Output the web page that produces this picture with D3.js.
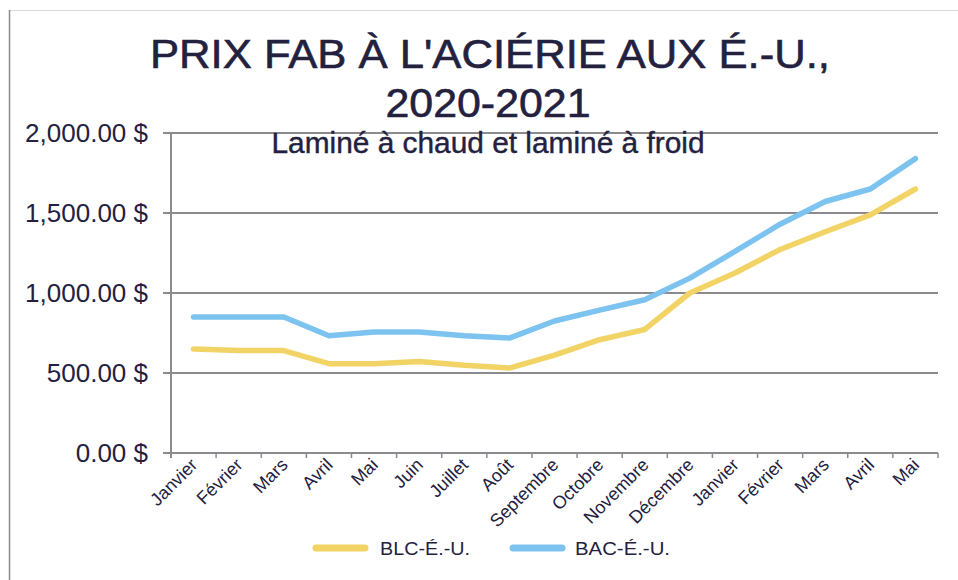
<!DOCTYPE html>
<html><head><meta charset="utf-8">
<script src="https://cdn.jsdelivr.net/npm/d3@7"></script>
<style>body{margin:0;background:#fff}svg{display:block}text{font-family:"Liberation Sans",Arial,sans-serif;fill:#24213f}</style>
</head><body><svg id="c" width="958" height="580"></svg>
<script>
const months = ["Janvier","Février","Mars","Avril","Mai","Juin","Juillet","Août","Septembre","Octobre","Novembre","Décembre","Janvier","Février","Mars","Avril","Mai"];
const blc = [650,640,640,558,558,572,548,531,612,708,772,1000,1125,1272,1383,1488,1650];
const bac = [850,850,850,733,756,756,733,718,825,893,958,1093,1260,1430,1572,1650,1840];
const yTicks = [0,500,1000,1500,2000];
const seriesNames = ["BLC-É.-U.","BAC-É.-U."];
const colors = ["#F2D466","#7DC3F0"];

const svg = d3.select("#c");
svg.append("rect").attr("x",9.5).attr("y",10.5).attr("width",960).attr("height",580).attr("fill","none").attr("stroke","#d9d9d9");
svg.append("line").attr("x1",9.5).attr("x2",9.5).attr("y1",10).attr("y2",580).attr("stroke","#8a8a8a").attr("stroke-width",1.5);

const L=171,R=938,T=133,B=453;
const x = d3.scaleBand().domain(d3.range(months.length)).range([L,R]).padding(0);
const y = d3.scaleLinear().domain([0,2000]).range([B,T]);

// gridlines
svg.append("g").selectAll("line").data(yTicks).join("line")
  .attr("x1",163).attr("x2",R).attr("y1",d=>y(d)).attr("y2",d=>y(d))
  .attr("stroke","#8c8a8f").attr("stroke-width",2);
// y axis line
svg.append("line").attr("x1",L).attr("x2",L).attr("y1",T).attr("y2",B+5).attr("stroke","#8c8a8f").attr("stroke-width",2);
// x ticks at boundaries
svg.append("g").selectAll("line").data(d3.range(months.length+1)).join("line")
  .attr("x1",i=>L+i*x.step()).attr("x2",i=>L+i*x.step()).attr("y1",B).attr("y2",B+5)
  .attr("stroke","#8c8a8f").attr("stroke-width",1.5);
// y labels
const fmt = d3.format(",.2f");
svg.append("g").selectAll("text").data(yTicks).join("text")
  .attr("x",148).attr("y",d=>y(d)).attr("dy","0.36em").attr("text-anchor","end")
  .style("font-size","26px").text(d=>fmt(d)+" $");
// x labels
svg.append("g").selectAll("text").data(months).join("text")
  .attr("transform",(d,i)=>`translate(${x(i)+x.bandwidth()/2+5},${B+13}) rotate(-45)`)
  .attr("text-anchor","end").style("font-size","18px").text(d=>d);

// lines
const line = d3.line().x((d,i)=>x(i)+x.bandwidth()/2).y(d=>y(d));
[blc,bac].forEach((s,k)=>{
  svg.append("path").datum(s).attr("d",line).attr("fill","none")
    .attr("stroke",colors[k]).attr("stroke-width",5.5).attr("stroke-linecap","round").attr("stroke-linejoin","round");
});

// titles
const tstyle = s=>s.style("stroke","#24213f").style("stroke-width","0.6px");
svg.append("text").attr("x",490).attr("y",68).attr("text-anchor","middle").style("font-size","41px")
  .attr("textLength",680).attr("lengthAdjust","spacingAndGlyphs").call(tstyle).text("PRIX FAB À L'ACIÉRIE AUX É.-U.,");
svg.append("text").attr("x",488).attr("y",117).attr("text-anchor","middle").style("font-size","41px")
  .attr("textLength",205).attr("lengthAdjust","spacingAndGlyphs").call(tstyle).text("2020-2021");
svg.append("text").attr("x",488).attr("y",153).attr("text-anchor","middle").style("font-size","29px")
  .attr("textLength",433).attr("lengthAdjust","spacingAndGlyphs").call(s=>s.style("stroke","#24213f").style("stroke-width","0.4px"))
  .text("Laminé à chaud et laminé à froid");

// legend
const leg = [{x:313,tx:380},{x:510,tx:575}];
leg.forEach((p,k)=>{
  svg.append("line").attr("x1",p.x+3).attr("x2",p.x+52).attr("y1",548).attr("y2",548)
    .attr("stroke",colors[k]).attr("stroke-width",7).attr("stroke-linecap","round");
  svg.append("text").attr("x",p.tx).attr("y",548).attr("dy","0.36em").style("font-size","19px")
    .attr("textLength",p.tx===380?90:95).attr("lengthAdjust","spacingAndGlyphs").text(seriesNames[k]);
});
</script></body></html>
